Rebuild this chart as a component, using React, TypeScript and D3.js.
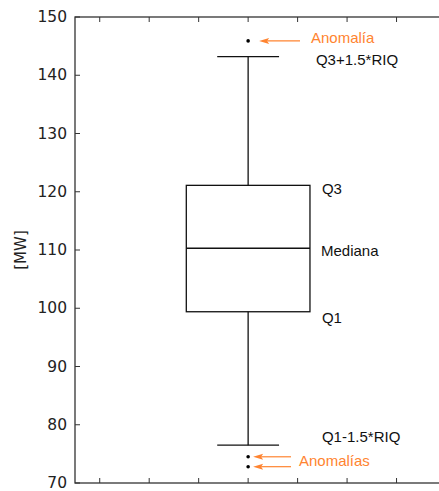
import React from 'react';
import * as d3 from 'd3';

// box statistics [MW]
const boxStats = { low: 76.5, q1: 99.4, median: 110.3, q3: 121.1, high: 143.2 };
const outliers = [145.9, 74.5, 72.8];
const yTicks = [70, 80, 90, 100, 110, 120, 130, 140, 150];
const xTicks = [0.4, 0.6, 0.8, 1.0, 1.2, 1.4, 1.6];
const boxPos = 1.0;
const boxWidth = 0.5;

const W = 439;
const H = 491;
const orange = '#ff8430';

const App = () => {
  const x = d3.scaleLinear().domain([0.3, 1.8]).range([75, 446]);
  const y = d3.scaleLinear().domain([70, 150]).range([483, 17]);

  const bx0 = x(boxPos - boxWidth / 2);
  const bx1 = x(boxPos + boxWidth / 2);
  const cx = x(boxPos);
  const cap0 = x(boxPos - boxWidth / 4);
  const cap1 = x(boxPos + boxWidth / 4);
  const lblX = bx1 + 12;

  const arrow = (x1: number, y1: number, x2: number, y2: number, key: string) => (
    <g key={key}>
      <line x1={x1} y1={y1} x2={x2 + 8} y2={y2} stroke={orange} strokeWidth={1.2} />
      <path d={`M${x2},${y2} L${x2 + 10},${y2 - 3} L${x2 + 8},${y2} L${x2 + 10},${y2 + 3} Z`} fill={orange} />
    </g>
  );

  const top = outliers.filter(d => d > boxStats.high);
  const bottom = outliers.filter(d => d < boxStats.low);

  return (
    <svg width={W} height={H} style={{ position: 'absolute', left: 0, top: 0, background: '#fff' }}>
      {/* frame */}
      <rect x={75} y={17} width={446 - 75} height={483 - 17} fill="none" stroke="#333" strokeWidth={1.3} />

      {/* y ticks */}
      {yTicks.map(t => (
        <g key={'y' + t}>
          <line x1={75} x2={80} y1={y(t)} y2={y(t)} stroke="#333" strokeWidth={1} />
          <text x={67} y={y(t)} textAnchor="end" dominantBaseline="central"
            style={{ fontFamily: 'DejaVu Sans', fontSize: '15.5px', fill: '#222' }}>{t}</text>
        </g>
      ))}

      {/* x ticks (no labels) */}
      {xTicks.map(t => (
        <g key={'x' + t}>
          <line x1={x(t)} x2={x(t)} y1={17} y2={22} stroke="#333" strokeWidth={1} />
          <line x1={x(t)} x2={x(t)} y1={483} y2={478} stroke="#333" strokeWidth={1} />
        </g>
      ))}

      <text transform={`translate(21, ${y(110)}) rotate(-90)`} textAnchor="middle" dominantBaseline="central"
        style={{ fontFamily: 'DejaVu Sans', fontSize: '15px', fill: '#222' }}>[MW]</text>

      {/* box plot */}
      <g stroke="#111" strokeWidth={1.3} fill="none">
        <rect x={bx0} y={y(boxStats.q3)} width={bx1 - bx0} height={y(boxStats.q1) - y(boxStats.q3)} />
        <line x1={bx0} x2={bx1} y1={y(boxStats.median)} y2={y(boxStats.median)} />
        <line x1={cx} x2={cx} y1={y(boxStats.q3)} y2={y(boxStats.high)} />
        <line x1={cx} x2={cx} y1={y(boxStats.q1)} y2={y(boxStats.low)} />
        <line x1={cap0} x2={cap1} y1={y(boxStats.high)} y2={y(boxStats.high)} />
        <line x1={cap0} x2={cap1} y1={y(boxStats.low)} y2={y(boxStats.low)} />
      </g>
      {outliers.map((d, i) => (
        <circle key={'o' + i} cx={cx} cy={y(d)} r={1.8} fill="#000" />
      ))}

      {/* annotations */}
      <g style={{ fontFamily: 'Liberation Sans, Arial', fontSize: '15px' }}>
        <text x={lblX} y={y(boxStats.q3) + 3} dominantBaseline="central" fill="#111">Q3</text>
        <text x={lblX - 1} y={y(boxStats.median) + 2} dominantBaseline="central" fill="#111">Mediana</text>
        <text x={lblX} y={y(boxStats.q1) + 6} dominantBaseline="central" fill="#111">Q1</text>
        <text x={lblX - 6} y={y(boxStats.high) + 3} dominantBaseline="central" fill="#111">Q3+1.5*RIQ</text>
        <text x={lblX} y={y(boxStats.low) - 9} dominantBaseline="central" fill="#111">Q1-1.5*RIQ</text>
        <text x={lblX - 11} y={y(top[0]) - 3} dominantBaseline="central" fill={orange}>Anomalía</text>
        <text x={lblX - 23} y={y(bottom[0]) + 4} dominantBaseline="central" fill={orange}>Anomalías</text>
      </g>
      {top.map((d, i) => arrow(300, y(d), cx + 11, y(d), 't' + i))}
      {bottom.map((d, i) => arrow(291, y(d), cx + 5, y(d), 'b' + i))}
    </svg>
  );
};

export default App;
